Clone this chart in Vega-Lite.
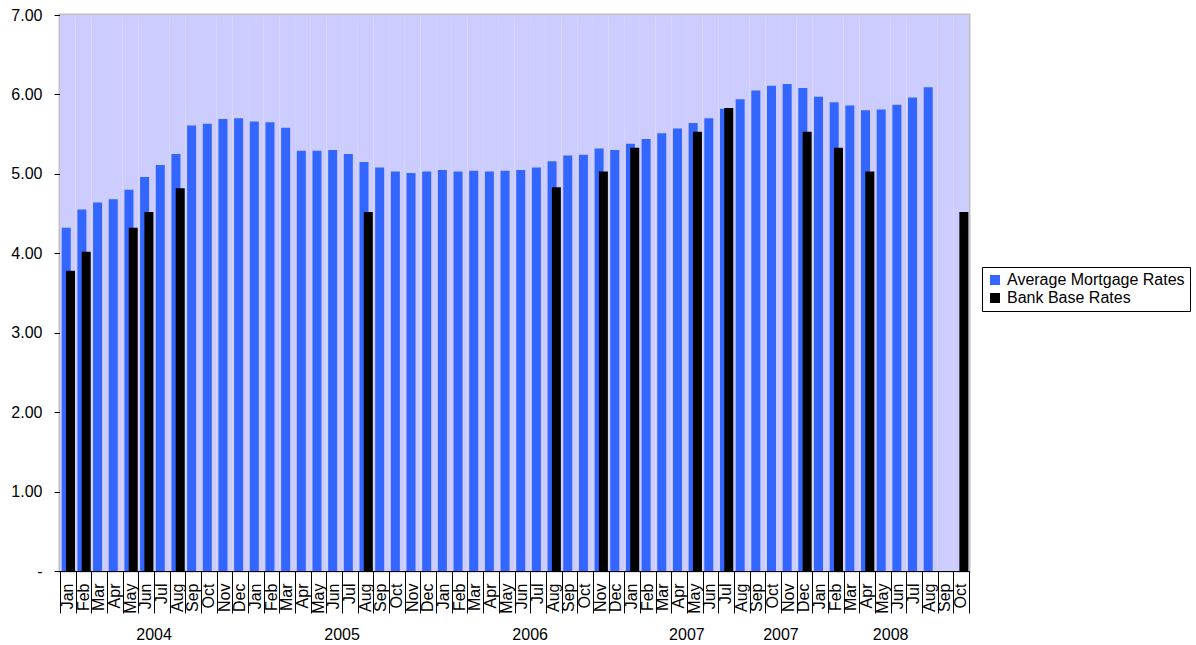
{
  "$schema": "https://vega.github.io/schema/vega-lite/v6.json",
  "width": 909,
  "height": 556,
  "padding": {"left": 10, "top": 7, "right": 5, "bottom": 0},
  "config": {
    "font": "Liberation Sans",
    "view": {"stroke": "#C0C0C0", "strokeWidth": 3},
    "axis": {"labelColor": "black", "tickColor": "black", "domainColor": "black", "labelFontSize": 16, "grid": false}
  },
  "data": {"values": [
    {"m": "2004-01", "mortgage": 4.32, "base": 3.78},
    {"m": "2004-02", "mortgage": 4.55, "base": 4.02},
    {"m": "2004-03", "mortgage": 4.64, "base": null},
    {"m": "2004-04", "mortgage": 4.68, "base": null},
    {"m": "2004-05", "mortgage": 4.80, "base": 4.32},
    {"m": "2004-06", "mortgage": 4.96, "base": 4.52},
    {"m": "2004-07", "mortgage": 5.11, "base": null},
    {"m": "2004-08", "mortgage": 5.25, "base": 4.82},
    {"m": "2004-09", "mortgage": 5.61, "base": null},
    {"m": "2004-10", "mortgage": 5.63, "base": null},
    {"m": "2004-11", "mortgage": 5.69, "base": null},
    {"m": "2004-12", "mortgage": 5.70, "base": null},
    {"m": "2005-01", "mortgage": 5.66, "base": null},
    {"m": "2005-02", "mortgage": 5.65, "base": null},
    {"m": "2005-03", "mortgage": 5.58, "base": null},
    {"m": "2005-04", "mortgage": 5.29, "base": null},
    {"m": "2005-05", "mortgage": 5.29, "base": null},
    {"m": "2005-06", "mortgage": 5.30, "base": null},
    {"m": "2005-07", "mortgage": 5.25, "base": null},
    {"m": "2005-08", "mortgage": 5.15, "base": 4.52},
    {"m": "2005-09", "mortgage": 5.08, "base": null},
    {"m": "2005-10", "mortgage": 5.03, "base": null},
    {"m": "2005-11", "mortgage": 5.01, "base": null},
    {"m": "2005-12", "mortgage": 5.03, "base": null},
    {"m": "2006-01", "mortgage": 5.05, "base": null},
    {"m": "2006-02", "mortgage": 5.03, "base": null},
    {"m": "2006-03", "mortgage": 5.04, "base": null},
    {"m": "2006-04", "mortgage": 5.03, "base": null},
    {"m": "2006-05", "mortgage": 5.04, "base": null},
    {"m": "2006-06", "mortgage": 5.05, "base": null},
    {"m": "2006-07", "mortgage": 5.08, "base": null},
    {"m": "2006-08", "mortgage": 5.16, "base": 4.83},
    {"m": "2006-09", "mortgage": 5.23, "base": null},
    {"m": "2006-10", "mortgage": 5.24, "base": null},
    {"m": "2006-11", "mortgage": 5.32, "base": 5.03},
    {"m": "2006-12", "mortgage": 5.30, "base": null},
    {"m": "2007-01", "mortgage": 5.38, "base": 5.33},
    {"m": "2007-02", "mortgage": 5.44, "base": null},
    {"m": "2007-03", "mortgage": 5.51, "base": null},
    {"m": "2007-04", "mortgage": 5.57, "base": null},
    {"m": "2007-05", "mortgage": 5.64, "base": 5.53},
    {"m": "2007-06", "mortgage": 5.70, "base": null},
    {"m": "2007-07", "mortgage": 5.82, "base": 5.83},
    {"m": "2007-08", "mortgage": 5.94, "base": null},
    {"m": "2007-09", "mortgage": 6.05, "base": null},
    {"m": "2007-10", "mortgage": 6.11, "base": null},
    {"m": "2007-11", "mortgage": 6.13, "base": null},
    {"m": "2007-12", "mortgage": 6.08, "base": 5.53},
    {"m": "2008-01", "mortgage": 5.97, "base": null},
    {"m": "2008-02", "mortgage": 5.90, "base": 5.33},
    {"m": "2008-03", "mortgage": 5.86, "base": null},
    {"m": "2008-04", "mortgage": 5.80, "base": 5.03},
    {"m": "2008-05", "mortgage": 5.81, "base": null},
    {"m": "2008-06", "mortgage": 5.87, "base": null},
    {"m": "2008-07", "mortgage": 5.96, "base": null},
    {"m": "2008-08", "mortgage": 6.09, "base": null},
    {"m": "2008-09", "mortgage": null, "base": null},
    {"m": "2008-10", "mortgage": null, "base": 4.52}
  ]},
  "layer": [
    {
      "mark": {"type": "rect", "color": "#CCCCFF"},
      "encoding": {
        "x": {
          "field": "m", "type": "nominal", "title": null,
          "scale": {"paddingInner": 0, "paddingOuter": 0, "domain": [
            "2004-01","2004-02","2004-03","2004-04","2004-05","2004-06","2004-07","2004-08","2004-09","2004-10","2004-11","2004-12",
            "2005-01","2005-02","2005-03","2005-04","2005-05","2005-06","2005-07","2005-08","2005-09","2005-10","2005-11","2005-12",
            "2006-01","2006-02","2006-03","2006-04","2006-05","2006-06","2006-07","2006-08","2006-09","2006-10","2006-11","2006-12",
            "2007-01","2007-02","2007-03","2007-04","2007-05","2007-06","2007-07","2007-08","2007-09","2007-10","2007-11","2007-12",
            "2008-01","2008-02","2008-03","2008-04","2008-05","2008-06","2008-07","2008-08","2008-09","2008-10"]},
          "axis": {
            "orient": "bottom",
            "values": ["2004-07", "2005-07", "2006-07", "2007-05", "2007-11", "2008-06"],
            "ticks": false,
            "domain": false,
            "labelAngle": 0,
            "labelAlign": "center",
            "labelBaseline": "top",
            "labelPadding": 0,
            "labelOffset": -7.84,
            "offset": 55,
            "labelExpr": "slice(datum.value, 0, 4)"
          }
        },
        "y": {"datum": 0, "type": "quantitative", "scale": {"domain": [0, 7], "nice": false}},
        "y2": {"datum": 7}
      }
    },
    {
      "mark": {"type": "bar", "size": 9, "xOffset": -1.6},
      "encoding": {
        "x": {
          "field": "m", "type": "nominal", "title": null,
          "axis": {
            "orient": "bottom",
            "ticks": false,
            "labelAngle": 270,
            "labelAlign": "right",
            "labelBaseline": "middle",
            "labelOverlap": false,
            "labelPadding": 12,
            "labelExpr": "['Jan','Feb','Mar','Apr','May','Jun','Jul','Aug','Sep','Oct','Nov','Dec'][toNumber(slice(datum.value, 5, 7)) - 1]"
          }
        },
        "y": {
          "field": "mortgage", "type": "quantitative", "title": null,
          "axis": {
            "values": [0, 1, 2, 3, 4, 5, 6, 7],
            "labelExpr": "datum.value == 0 ? '-\u00a0\u00a0\u00a0\u00a0' : format(datum.value, '.2f')",
            "tickSize": 6,
            "labelPadding": 12
          }
        },
        "color": {
          "datum": "Average Mortgage Rates",
          "scale": {"domain": ["Average Mortgage Rates", "Bank Base Rates"], "range": ["#3366FF", "#000000"]},
          "legend": {
            "orient": "none", "legendX": 922, "legendY": 252,
            "title": null, "symbolType": "square", "symbolSize": 100,
            "labelFontSize": 16, "labelColor": "black", "labelLimit": 300,
            "strokeColor": "black", "fillColor": "white", "padding": 5
          }
        }
      }
    },
    {
      "transform": [{"filter": "datum.base != null"}],
      "mark": {"type": "bar", "size": 9, "xOffset": 2.7},
      "encoding": {
        "x": {
          "field": "m", "type": "nominal", "title": null,
          "axis": {
            "orient": "bottom",
            "tickBand": "extent",
            "tickSize": 42,
            "labels": false,
            "domain": false
          }
        },
        "y": {"field": "base", "type": "quantitative"},
        "color": {"datum": "Bank Base Rates"}
      }
    }
  ],
  "resolve": {"axis": {"x": "independent"}}
}
